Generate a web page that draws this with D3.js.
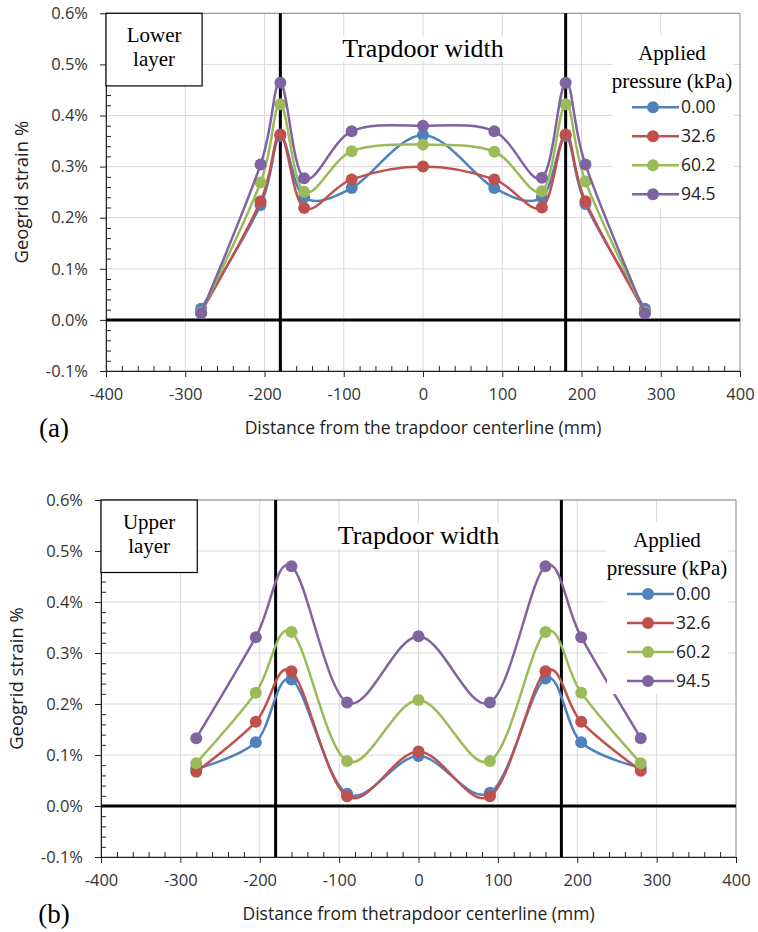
<!DOCTYPE html>
<html>
<head>
<meta charset="utf-8">
<script src="https://cdn.jsdelivr.net/npm/d3@7"></script>
<style>
  body { margin: 0; background: #fff; }
  svg { display: block; }
</style>
</head>
<body>
<svg id="chart" width="758" height="932"></svg>
<script>
// ---- shared axis / legend settings ----
const pressureLabels = ["0.00", "32.6", "60.2", "94.5"];
const seriesColors = ["#4F81BD", "#C0504D", "#9BBB59", "#8064A2"];
const xTicks = [-400, -300, -200, -100, 0, 100, 200, 300, 400];
const yTicks = [-0.1, 0, 0.1, 0.2, 0.3, 0.4, 0.5, 0.6];
const trapdoorEdges = [-180, 180];

// ---- (a) lower geogrid layer: strain (%) at gauge positions (mm) ----
const lowerX = [-280, -205, -180, -150, -90, 0, 90, 150, 180, 205, 280];
const lower000 = [0.022, 0.225, 0.360, 0.240, 0.258, 0.362, 0.258, 0.240, 0.360, 0.227, 0.022];
const lower326 = [0.015, 0.232, 0.363, 0.219, 0.275, 0.300, 0.275, 0.220, 0.363, 0.232, 0.015];
const lower602 = [0.015, 0.269, 0.422, 0.251, 0.330, 0.343, 0.329, 0.252, 0.422, 0.271, 0.015];
const lower945 = [0.013, 0.304, 0.464, 0.277, 0.369, 0.380, 0.369, 0.278, 0.464, 0.304, 0.013];

// ---- (b) upper geogrid layer ----
const upperX = [-280, -205, -160, -90, 0, 90, 160, 205, 280];
const upper000 = [0.073, 0.125, 0.248, 0.024, 0.098, 0.026, 0.250, 0.125, 0.075];
const upper326 = [0.067, 0.165, 0.264, 0.019, 0.107, 0.019, 0.264, 0.165, 0.069];
const upper602 = [0.084, 0.222, 0.341, 0.088, 0.208, 0.088, 0.341, 0.222, 0.084];
const upper945 = [0.133, 0.331, 0.470, 0.203, 0.333, 0.203, 0.470, 0.331, 0.133];

const svg = d3.select("#chart");
const SANS = "'Open Sans', 'Liberation Sans', sans-serif";
const SERIF = "'Liberation Serif', 'Times New Roman', serif";

function drawPanel(cfg) {
  const g = svg.append("g");
  const x = d3.scaleLinear().domain([-400, 400]).range([cfg.left, cfg.right]);
  const y = d3.scaleLinear().domain([-0.1, 0.6]).range([cfg.bottom, cfg.top]);

  // gridlines
  g.append("g").selectAll("line").data(xTicks.slice(1, -1)).join("line")
    .attr("x1", d => x(d)).attr("x2", d => x(d))
    .attr("y1", cfg.top).attr("y2", cfg.bottom)
    .attr("stroke", "#d9d9d9").attr("stroke-width", 1);
  g.append("g").selectAll("line").data(yTicks.slice(1)).join("line")
    .attr("x1", cfg.left).attr("x2", cfg.right)
    .attr("y1", d => y(d)).attr("y2", d => y(d))
    .attr("stroke", "#d9d9d9").attr("stroke-width", 1);

  // plot frame
  g.append("rect")
    .attr("x", cfg.left).attr("y", cfg.top)
    .attr("width", cfg.right - cfg.left).attr("height", cfg.bottom - cfg.top)
    .attr("fill", "none").attr("stroke", "#8a8a8a").attr("stroke-width", 1);

  // minor tick values
  const yMinor = d3.range(0, 36).map(i => -0.1 + i * 0.02)
    .filter(v => Math.abs(v * 10 - Math.round(v * 10)) > 1e-6);
  const xMinor = d3.range(0, 41).map(i => -400 + i * 20).filter(v => v % 100 !== 0);

  // y axis
  const yAx = g.append("g").attr("transform", `translate(${cfg.left},0)`)
    .call(d3.axisLeft(y).tickValues(yTicks).tickSize(6).tickSizeOuter(0).tickPadding(12)
      .tickFormat(d => d.toFixed(1) + "%"));
  g.append("g").attr("transform", `translate(${cfg.left},0)`)
    .call(d3.axisRight(y).tickValues(yMinor).tickSize(5).tickSizeOuter(0).tickFormat(""));

  // x axis
  const xAx = g.append("g").attr("transform", `translate(0,${cfg.bottom})`)
    .call(d3.axisBottom(x).tickValues(xTicks).tickSize(6).tickSizeOuter(0).tickPadding(11)
      .tickFormat(d => String(d)));
  g.append("g").attr("transform", `translate(0,${cfg.bottom})`)
    .call(d3.axisTop(x).tickValues(xMinor).tickSize(5).tickSizeOuter(0).tickFormat(""));

  g.selectAll(".domain").attr("stroke", "#222");
  g.selectAll(".tick line").attr("stroke", "#222");
  [yAx, xAx].forEach(a => a.selectAll("text")
    .attr("font-family", SANS).attr("font-size", 16.5).attr("fill", "#333"));

  // zero line and trapdoor edges
  g.append("line")
    .attr("x1", cfg.left).attr("x2", cfg.right)
    .attr("y1", y(0)).attr("y2", y(0))
    .attr("stroke", "#000").attr("stroke-width", 3);
  g.append("g").selectAll("line").data(trapdoorEdges).join("line")
    .attr("x1", d => x(d)).attr("x2", d => x(d))
    .attr("y1", cfg.top).attr("y2", cfg.bottom)
    .attr("stroke", "#000").attr("stroke-width", 3);

  // layer label box
  const bw = x(-280) - cfg.left + 1, bh = y(0.5) - cfg.top + 21.5;
  g.append("rect").attr("x", cfg.left).attr("y", cfg.top)
    .attr("width", bw).attr("height", bh)
    .attr("fill", "#fff").attr("stroke", "#000").attr("stroke-width", 1.2);
  g.append("text").attr("x", cfg.left + bw / 2).attr("y", cfg.top)
    .attr("font-family", SERIF).attr("font-size", 21).attr("text-anchor", "middle")
    .selectAll("tspan").data(cfg.boxLines).join("tspan")
    .attr("x", cfg.left + bw / 2).attr("dy", (d, i) => i === 0 ? 29 : 23.5).text(d => d);

  // "Trapdoor width" caption
  const cap = g.append("text").attr("x", x(0)).attr("y", cfg.top + 44)
    .attr("font-family", SERIF).attr("font-size", 26).attr("text-anchor", "middle")
    .text("Trapdoor width");
  const cb = cap.node().getBBox();
  g.insert("rect", () => cap.node())
    .attr("x", cb.x - 3).attr("y", cb.y + 2).attr("width", cb.width + 6).attr("height", cb.height - 4)
    .attr("fill", "#fff");

  // series
  const line = d3.line().x(d => x(d[0])).y(d => y(d[1])).curve(d3.curveCardinal.tension(0));
  cfg.series.forEach((vals, i) => {
    const pts = cfg.xs.map((xv, j) => [xv, vals[j]]);
    g.append("path").datum(pts).attr("d", line)
      .attr("fill", "none").attr("stroke", seriesColors[i]).attr("stroke-width", 2.5);
    g.append("g").selectAll("circle").data(pts).join("circle")
      .attr("cx", d => x(d[0])).attr("cy", d => y(d[1])).attr("r", 6)
      .attr("fill", seriesColors[i]);
  });

  // legend
  const lg = g.append("g");
  const lx = cfg.legendX, ly = cfg.top;
  lg.append("rect").attr("x", lx - 60).attr("y", ly + 22)
    .attr("width", 121).attr("height", 172).attr("fill", "#fff");
  lg.append("text").attr("x", lx).attr("y", ly + 47)
    .attr("font-family", SERIF).attr("font-size", 21).attr("text-anchor", "middle")
    .text("Applied");
  lg.append("text").attr("x", lx).attr("y", ly + 75)
    .attr("font-family", SERIF).attr("font-size", 21).attr("text-anchor", "middle")
    .text("pressure (kPa)");
  pressureLabels.forEach((lab, i) => {
    const ry = ly + 94 + i * 29;
    const mx = lx - 19;
    lg.append("line").attr("x1", mx - 21).attr("x2", mx + 26).attr("y1", ry).attr("y2", ry)
      .attr("stroke", seriesColors[i]).attr("stroke-width", 2.5);
    lg.append("circle").attr("cx", mx).attr("cy", ry).attr("r", 6).attr("fill", seriesColors[i]);
    lg.append("text").attr("x", mx + 28).attr("y", ry).attr("dy", "0.35em")
      .attr("font-family", SANS).attr("font-size", 17.5).attr("fill", "#222")
      .text(lab);
  });

  // axis titles
  g.append("text")
    .attr("transform", `translate(${cfg.left - 84},${(cfg.top + cfg.bottom) / 2}) rotate(-90)`)
    .attr("text-anchor", "middle").attr("dy", "0.35em")
    .attr("font-family", SANS).attr("font-size", 18.5).attr("fill", "#222")
    .text("Geogrid strain %");
  g.append("text").attr("x", x(0)).attr("y", cfg.bottom + 57).attr("dy", "0.35em")
    .attr("text-anchor", "middle")
    .attr("font-family", SANS).attr("font-size", 17.5).attr("fill", "#222")
    .text(cfg.xTitle);
  g.append("text").attr("x", 54).attr("y", cfg.bottom + 57).attr("dy", "0.35em")
    .attr("text-anchor", "middle")
    .attr("font-family", SERIF).attr("font-size", 27).attr("fill", "#000")
    .text(cfg.tag);
}

drawPanel({
  left: 106, right: 740, top: 13.3, bottom: 371,
  xs: lowerX, series: [lower000, lower326, lower602, lower945],
  boxLines: ["Lower", "layer"], legendX: 672,
  xTitle: "Distance from the trapdoor centerline (mm)", tag: "(a)"
});
drawPanel({
  left: 101, right: 736, top: 500, bottom: 857,
  xs: upperX, series: [upper000, upper326, upper602, upper945],
  boxLines: ["Upper", "layer"], legendX: 667,
  xTitle: "Distance from thetrapdoor centerline (mm)", tag: "(b)"
});
</script>
</body>
</html>
